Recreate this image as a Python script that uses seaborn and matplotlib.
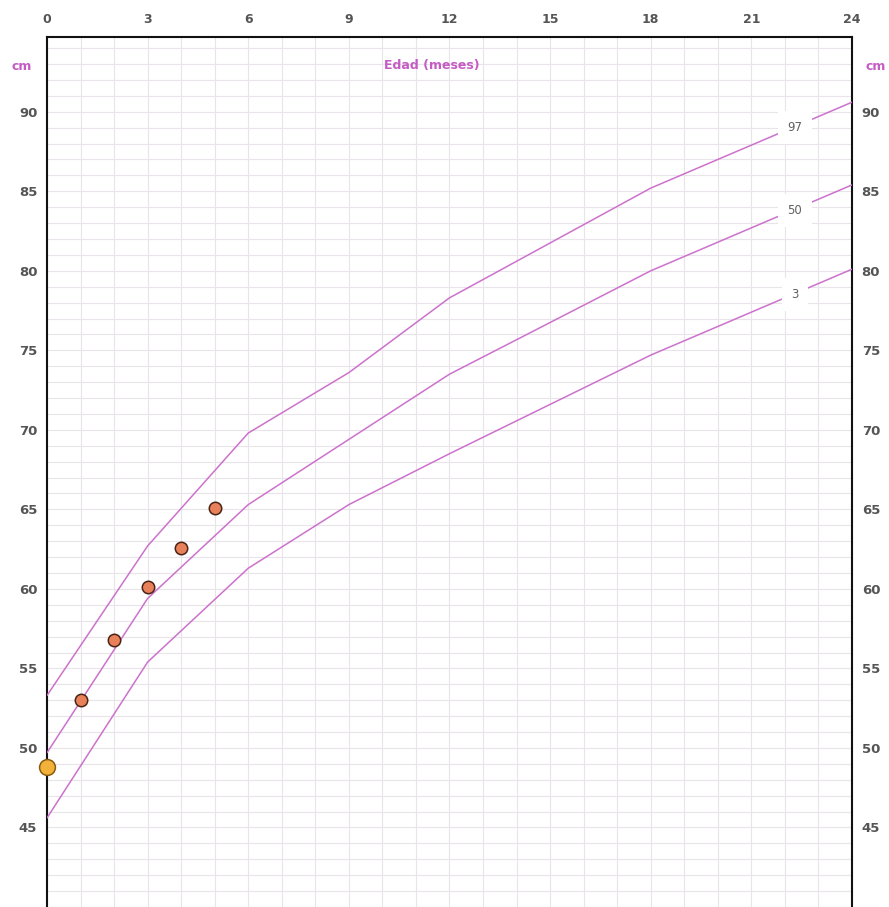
import numpy as np
import pandas as pd
import matplotlib
matplotlib.use("Agg")
import matplotlib.pyplot as plt
import seaborn as sns

# ---- data ----
ages_curve = [0, 3, 6, 9, 12, 18, 24]
p97 = [53.3, 62.7, 69.8, 73.6, 78.3, 85.2, 90.6]
p50 = [49.7, 59.4, 65.3, 69.4, 73.5, 80.0, 85.4]
p3 = [45.6, 55.4, 61.3, 65.3, 68.5, 74.7, 80.1]
percentile_names = ["97", "50", "3"]

child_age = [0, 1, 2, 3, 4, 5]
child_length = [48.8, 53.0, 56.8, 60.1, 62.6, 65.1]

x_ticks = [0, 3, 6, 9, 12, 15, 18, 21, 24]
y_ticks = [45, 50, 55, 60, 65, 70, 75, 80, 85, 90]

# ---- build frames ----
curves = pd.DataFrame({
    "age": ages_curve * 3,
    "length": p97 + p50 + p3,
    "pct": sum([[n] * len(ages_curve) for n in percentile_names], []),
})
child = pd.DataFrame({"age": child_age, "length": child_length})

sns.set_style("white")
plt.rcParams["font.family"] = ["DejaVu Sans"]

fig = plt.figure(figsize=(8.89, 9.07), dpi=100)
ax = fig.add_axes([47 / 889, 0.0, (852 - 47) / 889, 1 - 37 / 907])

line_color = "#cc72cc"
sns.lineplot(data=curves, x="age", y="length", units="pct", estimator=None,
             color=line_color, lw=1.1, ax=ax, legend=False, zorder=3)

# percentile labels with white boxes
for name, vals in zip(percentile_names, [p97, p50, p3]):
    ax.text(22.3, vals[-1] - 1.6, name, ha="center", va="center",
            fontsize=8.5, color="#606060", zorder=4,
            bbox=dict(facecolor="white", edgecolor="none", pad=7))

# child's measurements
first = child.iloc[:1]
rest = child.iloc[1:]
sns.scatterplot(data=rest, x="age", y="length", s=80, color="#e8805a",
                edgecolor="#4a2416", linewidth=1.1, ax=ax, zorder=5)
sns.scatterplot(data=first, x="age", y="length", s=130, color="#f2b23a",
                edgecolor="#8a5a10", linewidth=1.1, ax=ax, zorder=6, clip_on=False)

ax.set_xlim(0, 24)
ax.set_ylim(40, 94.7)

ax.set_xticks(x_ticks)
ax.set_xticks(range(0, 25), minor=True)
ax.set_yticks(y_ticks)
ax.set_yticks(np.arange(40, 95, 1), minor=True)
ax.grid(which="both", color="#e9e4e9", lw=0.8)
ax.set_axisbelow(True)

ax.xaxis.tick_top()
ax.tick_params(axis="x", which="major", length=0, pad=8, labelsize=9,
               labelcolor="#555555")
ax.tick_params(axis="y", which="major", length=0, pad=7, labelsize=9.5,
               labelcolor="#555555", labelleft=True, labelright=True)
ax.tick_params(which="minor", length=0)
for lab in ax.get_xticklabels() + ax.get_yticklabels():
    lab.set_fontweight("bold")
ax.set_xlabel("")
ax.set_ylabel("")

for side in ["left", "right", "top"]:
    ax.spines[side].set_visible(True)
    ax.spines[side].set_color("#111111")
    ax.spines[side].set_linewidth(1.5)
ax.spines["bottom"].set_visible(False)

purple = "#c45cc4"
fig.text(22 / 889, 1 - 67 / 907, "cm", ha="center", va="center",
         color=purple, fontsize=9, fontweight="bold")
fig.text(876 / 889, 1 - 67 / 907, "cm", ha="center", va="center",
         color=purple, fontsize=9, fontweight="bold")
fig.text(432 / 889, 1 - 66 / 907, "Edad (meses)", ha="center", va="center",
         color=purple, fontsize=9, fontweight="bold")

fig.savefig("out.png", dpi=100)
